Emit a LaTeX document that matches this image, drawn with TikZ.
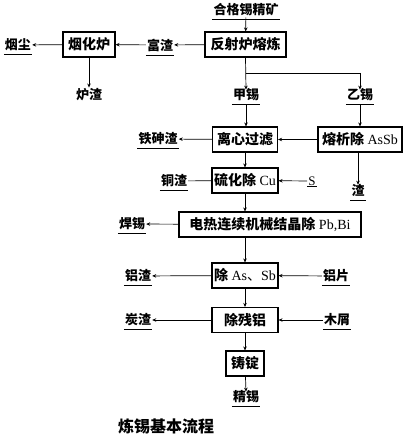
\documentclass[tikz,border=0pt]{standalone}
\usepackage{fontspec}
\setmainfont{Liberation Serif}
\newfontfamily\cjk{Noto Sans CJK SC}
\usetikzlibrary{arrows.meta}
\newcommand{\zh}[1]{{\cjk\bfseries #1}}
\begin{document}
\begin{tikzpicture}[x=1pt,y=-1pt,
  every node/.style={font=\fontsize{13}{15}\selectfont},
  box/.style={draw,line width=1.1pt,minimum height=25pt,inner sep=2pt,anchor=center,font=\fontsize{14}{16}\selectfont},
  lab/.style={inner sep=1pt},
  ul/.style={inner sep=1pt},
  arr/.style={-{Stealth[length=4pt,width=3.5pt]},line width=0.7pt},
  ln/.style={line width=0.7pt}]
\useasboundingbox[fill=white] (0,0) rectangle (406,438);
% nodes
\node[ul] (ore) at (246,10) {\zh{合格锡精矿}};
\node[box,minimum width=81pt] (fan) at (245.5,44.5) {\zh{反射炉熔炼}};
\node[ul] (fz) at (160,45) {\zh{富渣}};
\node[box,minimum width=52pt] (yhl) at (89,44.5) {\zh{烟化炉}};
\node[ul] (yc) at (18,45) {\zh{烟尘}};
\node[lab] (lz) at (89,95) {\zh{炉渣}};
\node[ul] (jx) at (246,95) {\zh{甲锡}};
\node[ul] (yx) at (360,95) {\zh{乙锡}};
\coordinate (br1) at (245.5,73);
\coordinate (br2) at (360,73);
\node[box,minimum width=65pt] (lx) at (245,139.5) {\zh{离心过滤}};
\node[box,minimum width=84pt] (rx) at (360,139.5) {\zh{熔析除} AsSb};
\node[ul] (tsz) at (158,139) {\zh{铁砷渣}};
\node[ul] (z) at (358,190) {\zh{渣}};
\node[box,minimum width=66pt] (lh) at (245,180.5) {\zh{硫化除} Cu};
\node[ul] (tz) at (174,181) {\zh{铜渣}};
\node[ul] (s) at (312,181) {S};
\node[box,minimum width=182pt] (dr) at (270,224.5) {\zh{电热连续机械结晶除} Pb,Bi};
\node[ul] (hx) at (132,224) {\zh{焊锡}};
\node[box,minimum width=66pt] (cas) at (245,275.5) {\zh{除} As{\cjk 、}Sb};
\node[ul] (lzz) at (138,276) {\zh{铝渣}};
\node[ul] (lp) at (336,276) {\zh{铝片}};
\node[box,minimum width=66pt] (ccl) at (245,320) {\zh{除残铝}};
\node[ul] (tanz) at (138,320) {\zh{炭渣}};
\node[ul] (mx) at (337,320) {\zh{木屑}};
\node[box,minimum width=38pt] (zd) at (245,363.5) {\zh{铸锭}};
\node[ul] (jingx) at (246,397) {\zh{精锡}};
\node[lab] (title) at (166,426) {\fontsize{16}{18}\selectfont\zh{炼锡基本流程}};
% underlines
\foreach \n in {ore,fz,yc,jx,yx,tsz,z,tz,hx,lzz,lp,tanz,mx,jingx}
  \draw[line width=1pt] ([yshift=-5pt]\n.base west) -- ([yshift=-5pt]\n.base east);
\draw[line width=1pt] (s.south west) -- (s.south east);
% connectors
\draw[arr] (ore) -- (fan);
\draw[arr] (fan) -- (fz);
\draw[arr] (fz) -- (yhl);
\draw[arr] (yhl) -- (yc);
\draw[arr] (yhl) -- (lz);
\draw[arr] (fan.south) -- ([yshift=-2pt]jx.north);
\draw[ln] (br1) -- (br2);
\draw[arr] (br2) -- ([yshift=-2pt]yx.north);
\draw[arr] ([yshift=-5pt]jx.base) -- (jx|-lx.north);
\draw[arr] ([yshift=-5pt]yx.base) -- (rx);
\draw[arr] (rx) -- (lx);
\draw[arr] (lx) -- (tsz);
\draw[arr] (rx.south-|z) -- ([yshift=-2pt]z.north);
\draw[arr] (lx) -- (lh);
\draw[ln] (lh) -- (tz);
\draw[arr] (s) -- (lh);
\draw[arr] (lh.south) -- (lh.south|-dr.north);
\draw[arr] (dr) -- (hx);
\draw[arr] (cas.north|-dr.south) -- (cas.north);
\draw[arr] (cas) -- (lzz);
\draw[arr] (lp) -- (cas);
\draw[arr] (cas) -- (ccl);
\draw[arr] (ccl) -- (tanz);
\draw[arr] (mx) -- (ccl);
\draw[arr] (ccl) -- (zd);
\draw[arr] (zd) -- ([yshift=-2pt]jingx.north);
\end{tikzpicture}
\end{document}
